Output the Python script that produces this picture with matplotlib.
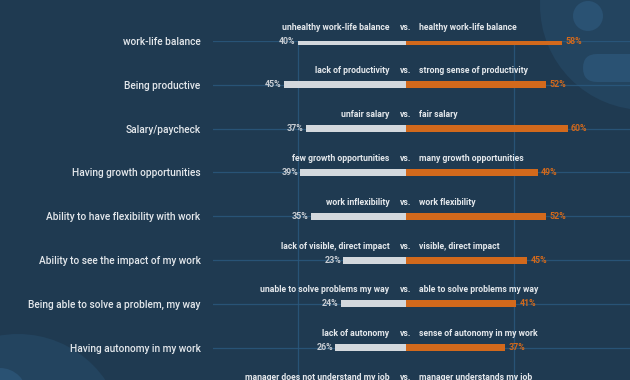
import matplotlib
matplotlib.use("Agg")
import matplotlib.pyplot as plt
from matplotlib.patches import Circle, FancyBboxPatch
import numpy as np

plt.rcParams['font.family'] = ['Roboto', 'DejaVu Sans']

categories = ["work-life balance", "Being productive", "Salary/paycheck",
              "Having growth opportunities", "Ability to have flexibility with work",
              "Ability to see the impact of my work", "Being able to solve a problem, my way",
              "Having autonomy in my work"]
negative = [40, 45, 37, 39, 35, 23, 24, 26]
positive = [58, 52, 60, 49, 52, 45, 41, 37]
neg_labels = ["unhealthy work-life balance", "lack of productivity", "unfair salary",
              "few growth opportunities", "work inflexibility", "lack of visible, direct impact",
              "unable to solve problems my way", "lack of autonomy",
              "manager does not understand my job"]
pos_labels = ["healthy work-life balance", "strong sense of productivity", "fair salary",
              "many growth opportunities", "work flexibility", "visible, direct impact",
              "able to solve problems my way", "sense of autonomy in my work",
              "manager understands my job"]

BG = "#1f3a51"
DECOR = "#23445f"
DECOR2 = "#2a5273"
GRID = "#2b5a80"
GREY = "#d3d8dd"
ORANGE = "#d2691c"
TXT = "#e4e8ec"

W, H = 630, 380
fig = plt.figure(figsize=(6.3, 3.8), dpi=100, facecolor=BG)

# background decorations (figure pixel coords)
deco = fig.add_axes([0, 0, 1, 1], zorder=0)
deco.set_xlim(0, W); deco.set_ylim(H, 0); deco.axis("off")
deco.set_facecolor(BG)
deco.add_patch(Circle((645, 5), 105, color=DECOR, lw=0))
deco.add_patch(Circle((588, 16), 15, color=DECOR2, lw=0))
deco.add_patch(FancyBboxPatch((583, 54), 80, 28, boxstyle="round,pad=0,rounding_size=14",
                              color=DECOR2, lw=0))
deco.add_patch(Circle((18, 440), 106, color=DECOR, lw=0))
deco.add_patch(Circle((0, 395), 27, color=DECOR2, lw=0))

row_px = 43.8
top_px = 41
ax = fig.add_axes([213 / W, 0, 417 / W, (H - top_px) / H], zorder=1)
ax.patch.set_alpha(0)
ax.set_xlim(-71.3, 83.1)
ax.set_ylim((H - top_px) / row_px, 0)
for s in ax.spines.values():
    s.set_visible(False)
ax.set_xticks([-40, 40])
n = len(categories)
ax.set_yticks(np.arange(n))
ax.set_yticklabels(categories, color=TXT, fontsize=7.3, fontweight="medium")
ax.tick_params(axis="both", length=0, pad=9)
ax.tick_params(axis="x", labelbottom=False)
ax.grid(True, color=GRID, lw=0.9, alpha=0.8)
ax.set_axisbelow(True)

y = np.arange(n)
bh = 7 / row_px
ax.barh(y, [-v for v in negative], height=bh, color=GREY, zorder=3)
ax.barh(y, positive, height=bh, color=ORANGE, zorder=3)

for i in range(n):
    ax.text(-negative[i] - 0.8, i, f"{negative[i]}%", ha="right", va="center",
            fontsize=6.4, fontweight="bold", color="#c9ced4", zorder=4)
    ax.text(positive[i] + 1.2, i, f"{positive[i]}%", ha="left", va="center",
            fontsize=6.4, fontweight="bold", color=ORANGE, zorder=4)

sub_off = 14 / row_px
for i in range(len(neg_labels)):
    yy = i - sub_off
    ax.text(-6, yy, neg_labels[i], ha="right", va="center", fontsize=6.2,
            fontweight="bold", color=TXT, clip_on=False)
    ax.text(0, yy, "vs.", ha="center", va="center", fontsize=6.2,
            fontweight="bold", color=TXT, clip_on=False)
    ax.text(5, yy, pos_labels[i], ha="left", va="center", fontsize=6.2,
            fontweight="bold", color=TXT, clip_on=False)

fig.savefig("out.png", dpi=100, facecolor=BG)
